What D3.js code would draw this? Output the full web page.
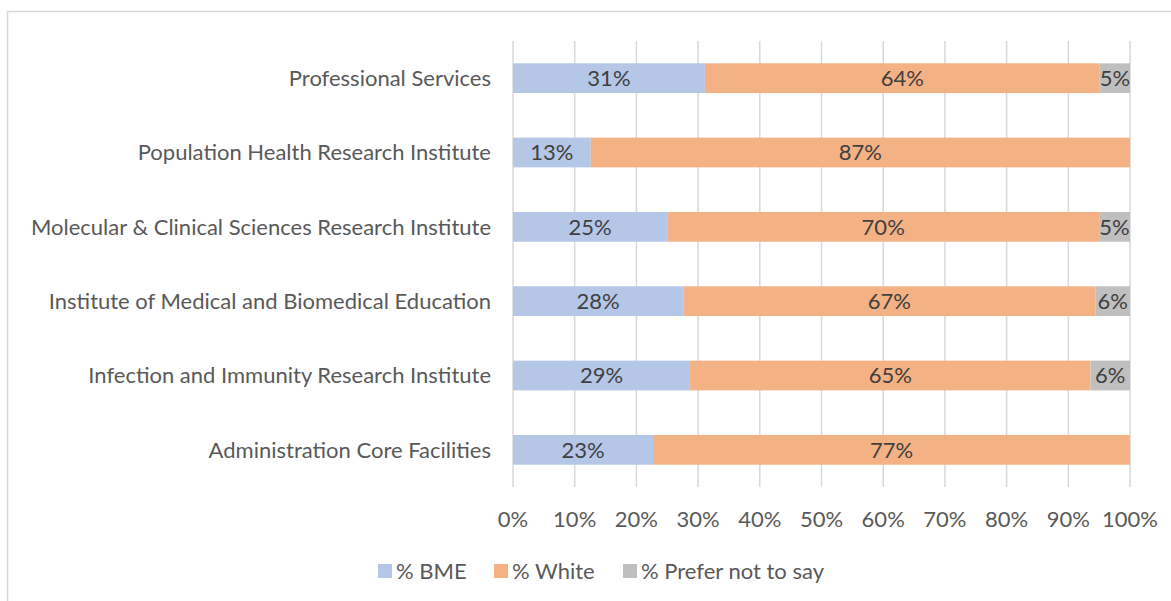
<!DOCTYPE html>
<html>
<head>
<meta charset="utf-8">
<script src="https://cdn.jsdelivr.net/npm/d3@7"></script>
<style>
	body { margin: 0; background: #fff; }
	text { font-family: Lato, sans-serif; }
</style>
</head>
<body>
<div id="chart"></div>
<script>
// Categories, top to bottom.
let categories = [
	"Professional Services",
	"Population Health Research Institute",
	"Molecular & Clinical Sciences Research Institute",
	"Institute of Medical and Biomedical Education",
	"Infection and Immunity Research Institute",
	"Administration Core Facilities"
];

// Series values (share of staff, %).
let bme    = [31.1, 12.6, 25.0, 27.6, 28.7, 22.7];
let white  = [64.0, 87.4, 70.0, 66.8, 64.9, 77.3];
let prefer = [ 4.9,  0.0,  5.0,  5.6,  6.4,  0.0];

let seriesNames = ["% BME", "% White", "% Prefer not to say"];
let seriesColors = ["#B4C7E7", "#F4B183", "#BFBFBF"];
let xTicks = [0, 10, 20, 30, 40, 50, 60, 70, 80, 90, 100];

let fontSize = 22;

let width = 1171, height = 601;
let margin = {left: 513, right: 41, top: 41, bottom: 114};

let svg = d3.select("#chart").append("svg")
	.attr("width", width)
	.attr("height", height);

// Chart frame, runs off the right and bottom of the picture.
svg.append("rect")
	.attr("x", 7.5).attr("y", 11.5)
	.attr("width", width).attr("height", height)
	.attr("fill", "none")
	.attr("stroke", "#D9D9D9")
	.attr("stroke-width", 1.5);

let x = d3.scaleLinear()
	.domain([0, 100])
	.range([margin.left, width - margin.right]);

let y = d3.scaleBand()
	.domain(categories)
	.range([margin.top, height - margin.bottom])
	.paddingInner(0.6)
	.paddingOuter(0.3);

// Gridlines.
svg.append("g")
	.selectAll("line")
	.data(xTicks)
	.enter()
	.append("line")
		.attr("x1", d=>x(d)).attr("x2", d=>x(d))
		.attr("y1", margin.top).attr("y2", height - margin.bottom)
		.attr("stroke", "#D9D9D9")
		.attr("stroke-width", 1.5);

// Stack the rows.
let rows = categories.map((c, i)=>({cat: c, s0: bme[i], s1: white[i], s2: prefer[i]}));
let stack = d3.stack().keys(["s0", "s1", "s2"])(rows);

stack.forEach((layer, k)=>{
	let g = svg.append("g");
	let segs = layer.filter(d=>d[1] - d[0] > 0);

	g.selectAll("rect")
	  .data(segs)
	  .enter()
	  .append("rect")
		  .attr("x", d=>x(d[0]))
		  .attr("y", d=>y(d.data.cat))
		  .attr("width", d=>x(d[1]) - x(d[0]))
		  .attr("height", y.bandwidth())
		  .attr("fill", seriesColors[k]);

	g.selectAll("text")
	  .data(segs)
	  .enter()
	  .append("text")
		  .attr("x", d=>(x(d[0]) + x(d[1]))/2)
		  .attr("y", d=>y(d.data.cat) + y.bandwidth()/2)
		  .attr("dy", "0.36em")
		  .attr("text-anchor", "middle")
		  .attr("font-size", fontSize)
		  .attr("fill", "#404040")
		  .text(d=>Math.round(d[1] - d[0]) + "%");
});

// Category labels.
svg.append("g")
	.selectAll("text")
	.data(categories)
	.enter()
	.append("text")
		.attr("x", margin.left - 22)
		.attr("y", d=>y(d) + y.bandwidth()/2)
		.attr("dy", "0.36em")
		.attr("text-anchor", "end")
		.attr("font-size", fontSize)
		.attr("fill", "#595959")
		.text(d=>d);

// X tick labels.
svg.append("g")
	.selectAll("text")
	.data(xTicks)
	.enter()
	.append("text")
		.attr("x", d=>x(d))
		.attr("y", 519)
		.attr("dy", "0.36em")
		.attr("text-anchor", "middle")
		.attr("font-size", fontSize)
		.attr("fill", "#595959")
		.text(d=>d + "%");

// Legend.
let legendX = [378, 494, 623];
let legend = svg.append("g")
	.selectAll("g")
	.data(seriesNames)
	.enter()
	.append("g")
		.attr("transform", (d, i)=>`translate(${legendX[i]},571)`);

legend.append("rect")
	.attr("x", 0).attr("y", -7)
	.attr("width", 14).attr("height", 14)
	.attr("fill", (d, i)=>seriesColors[i]);

legend.append("text")
	.attr("x", 18)
	.attr("dy", "0.36em")
	.attr("font-size", fontSize)
	.attr("fill", "#595959")
	.text(d=>d);
</script>
</body>
</html>
